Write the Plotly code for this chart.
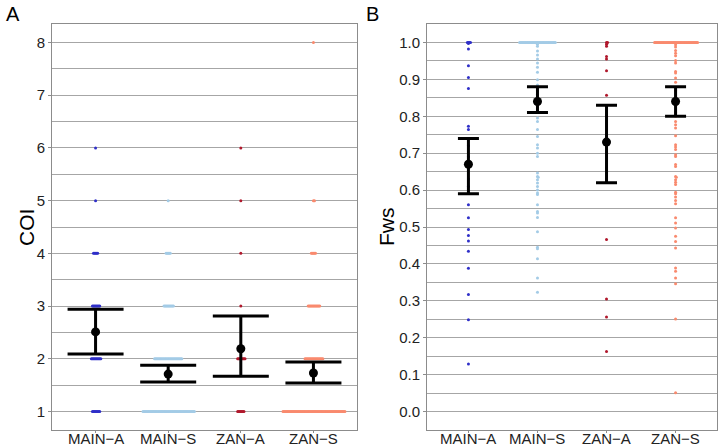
import numpy as np
import plotly.graph_objects as go

# ---- data ----
groups = ["MAIN\u2212A", "MAIN\u2212S", "ZAN\u2212A", "ZAN\u2212S"]
colors = ["#2f2fc8", "#a3cbe6", "#b0182c", "#f98a6e"]

# COI: number of samples at each COI level
coi_levels = [1, 2, 3, 4, 5, 6, 7, 8]
coi_main_a = [8, 10, 8, 5, 1, 1, 0, 0]
coi_main_s = [50, 27, 10, 5, 1, 0, 0, 0]
coi_zan_a = [7, 8, 1, 1, 1, 1, 0, 0]
coi_zan_s = [60, 18, 12, 5, 2, 0, 0, 1]

coi_mean = [2.51, 1.71, 2.19, 1.73]
coi_low = [2.09, 1.56, 1.67, 1.54]
coi_high = [2.94, 1.88, 2.81, 1.94]

# Fws: samples sitting exactly at 1.0, plus the other values
fws_ones = [4, 35, 2, 42]
fws_main_a = [0.997, 0.982, 0.937, 0.905, 0.875, 0.773, 0.764, 0.72, 0.69, 0.66,
              0.63, 0.61, 0.56, 0.525, 0.493, 0.477, 0.462, 0.434, 0.388, 0.317,
              0.249, 0.129]
fws_main_s = [0.995, 0.99, 0.977, 0.966, 0.955, 0.944, 0.933, 0.919, 0.899, 0.885,
              0.87, 0.86, 0.85, 0.835, 0.82, 0.81, 0.795, 0.786, 0.764, 0.745,
              0.723, 0.714, 0.70, 0.691, 0.646, 0.637, 0.635, 0.628, 0.619, 0.61,
              0.60, 0.592, 0.588, 0.56, 0.542, 0.538, 0.526, 0.487, 0.445, 0.441,
              0.414, 0.362, 0.323]
fws_zan_a = [0.995, 0.99, 0.962, 0.955, 0.923, 0.857, 0.80, 0.76, 0.70, 0.66,
             0.63, 0.466, 0.305, 0.256, 0.163]
fws_zan_s = [0.994, 0.988, 0.978, 0.971, 0.964, 0.951, 0.944, 0.921, 0.917, 0.904,
             0.892, 0.87, 0.85, 0.83, 0.81, 0.80, 0.786, 0.777, 0.768, 0.747,
             0.723, 0.717, 0.71, 0.696, 0.691, 0.669, 0.664, 0.637, 0.635, 0.628,
             0.621, 0.615, 0.594, 0.59, 0.581, 0.572, 0.563, 0.525, 0.511, 0.497,
             0.475, 0.461, 0.443, 0.389, 0.38, 0.362, 0.346, 0.251, 0.051]

fws_mean = [0.67, 0.84, 0.73, 0.84]
fws_low = [0.59, 0.81, 0.62, 0.80]
fws_high = [0.74, 0.88, 0.83, 0.88]

# ---- layout geometry ----
W, H = 720, 446
dom_a = [52 / W, 357 / W]
dom_b = [427 / W, 717 / W]
dom_y = [(H - 430) / H, (H - 24) / H]
xr = [0.4, 4.6]
yr_a = [0.65, 8.35]
yr_b = [-0.05, 1.05]
plot_h = (dom_y[1] - dom_y[0]) * H


def swarm(ys, y_px_per_unit, x_px_per_unit, d=1.05):
    """simple beeswarm: push points sideways until they stop overlapping"""
    ys = np.asarray(ys, dtype=float)
    yp = ys * y_px_per_unit
    xs = np.zeros(len(ys))
    placed = []
    for i in np.argsort(-yp, kind="stable"):
        y = yp[i]
        near = [(px, py) for px, py in placed if abs(py - y) < d]
        cands = [0.0]
        for px, py in near:
            dx = np.sqrt(d * d - (py - y) ** 2)
            cands += [px + dx, px - dx]
        cands.sort(key=abs)
        for c in cands:
            if all((c - px) ** 2 + (y - py) ** 2 >= d * d - 1e-6 for px, py in near):
                xs[i] = c
                break
        placed.append((xs[i], y))
    return xs / x_px_per_unit


fig = go.Figure()

# panel A points
coi_counts = [coi_main_a, coi_main_s, coi_zan_a, coi_zan_s]
xa_ppu = (dom_a[1] - dom_a[0]) * W / (xr[1] - xr[0])
ya_ppu = plot_h / (yr_a[1] - yr_a[0])
for i, counts in enumerate(coi_counts):
    ys = np.repeat(coi_levels, counts)
    xs = i + 1 + swarm(ys, ya_ppu, xa_ppu)
    fig.add_trace(go.Scatter(x=xs, y=ys, mode="markers", xaxis="x", yaxis="y",
                             marker=dict(size=3, color=colors[i], line=dict(width=0)),
                             showlegend=False, hoverinfo="skip"))

# panel B points
fws_lists = [fws_main_a, fws_main_s, fws_zan_a, fws_zan_s]
xb_ppu = (dom_b[1] - dom_b[0]) * W / (xr[1] - xr[0])
yb_ppu = plot_h / (yr_b[1] - yr_b[0])
for i, vals in enumerate(fws_lists):
    ys = np.array([1.0] * fws_ones[i] + vals)
    xs = i + 1 + swarm(ys, yb_ppu, xb_ppu)
    fig.add_trace(go.Scatter(x=xs, y=ys, mode="markers", xaxis="x2", yaxis="y2",
                             marker=dict(size=3, color=colors[i], line=dict(width=0)),
                             showlegend=False, hoverinfo="skip"))

# mean +- interval
xpos = [1, 2, 3, 4]
fig.add_trace(go.Scatter(
    x=xpos, y=coi_mean, mode="markers", xaxis="x", yaxis="y",
    marker=dict(size=9, color="black"),
    error_y=dict(type="data", symmetric=False,
                 array=[h - m for h, m in zip(coi_high, coi_mean)],
                 arrayminus=[m - l for m, l in zip(coi_mean, coi_low)],
                 color="black", thickness=3, width=28),
    showlegend=False))
fig.add_trace(go.Scatter(
    x=xpos, y=fws_mean, mode="markers", xaxis="x2", yaxis="y2",
    marker=dict(size=9, color="black"),
    error_y=dict(type="data", symmetric=False,
                 array=[h - m for h, m in zip(fws_high, fws_mean)],
                 arrayminus=[m - l for m, l in zip(fws_mean, fws_low)],
                 color="black", thickness=3, width=10.5),
    showlegend=False))

grid = "#a6a6a6"
frame = "#8c8c8c"
fam = "Liberation Sans, Arial, sans-serif"
tickfont = dict(family=fam, size=15, color="#222")

# x tick labels are placed as annotations so they sit tight under the frame
xaxis_common = dict(range=xr, tickvals=xpos, showticklabels=False, showgrid=False,
                    zeroline=False, showline=True, mirror=True, linecolor=frame,
                    linewidth=1, ticks="outside", ticklen=2, tickcolor=frame)

annotations = [
    dict(text="A", x=4 / W, y=1 - 14 / H, xref="paper", yref="paper",
         xanchor="left", yanchor="middle", showarrow=False,
         font=dict(family=fam, size=20, color="black")),
    dict(text="B", x=364 / W, y=1 - 14 / H, xref="paper", yref="paper",
         xanchor="left", yanchor="middle", showarrow=False,
         font=dict(family=fam, size=20, color="black")),
    dict(text="COI", x=26 / W, y=1 - 227 / H, xref="paper", yref="paper",
         xanchor="center", yanchor="middle", textangle=-90, showarrow=False,
         font=dict(family=fam, size=21, color="black")),
    dict(text="Fws", x=386 / W, y=1 - 227 / H, xref="paper", yref="paper",
         xanchor="center", yanchor="middle", textangle=-90, showarrow=False,
         font=dict(family=fam, size=21, color="black")),
]
for xref in ["x", "x2"]:
    for x, label in zip(xpos, groups):
        annotations.append(dict(text=label, x=x, y=1 - 438 / H, xref=xref,
                                yref="paper", xanchor="center", yanchor="middle",
                                showarrow=False, borderpad=0,
                                font=dict(family=fam, size=15, color="#222")))

fig.update_layout(
    width=W, height=H, autosize=False,
    margin=dict(l=0, r=0, t=0, b=0),
    plot_bgcolor="white", paper_bgcolor="white",
    font=dict(family=fam, color="#222"),
    xaxis=dict(domain=dom_a, anchor="y", **xaxis_common),
    xaxis2=dict(domain=dom_b, anchor="y2", **xaxis_common),
    yaxis=dict(domain=dom_y, anchor="x", range=yr_a, tickvals=coi_levels,
               showgrid=True, gridcolor=grid, gridwidth=1, zeroline=False,
               showline=True, mirror=True, linecolor=frame, linewidth=1,
               ticks="outside", ticklen=3, tickcolor=frame, tickfont=tickfont,
               minor=dict(dtick=0.5, tick0=0.5, showgrid=True, gridcolor=grid,
                          gridwidth=1, ticks="")),
    yaxis2=dict(domain=dom_y, anchor="x2", range=yr_b, dtick=0.1, tick0=0,
                tickformat=".1f", showgrid=True, gridcolor=grid, gridwidth=1,
                zeroline=False, showline=True, mirror=True, linecolor=frame,
                linewidth=1, ticks="outside", ticklen=3, tickcolor=frame,
                tickfont=tickfont,
                minor=dict(dtick=0.05, tick0=0.05, showgrid=True, gridcolor=grid,
                           gridwidth=1, ticks="")),
    annotations=annotations,
)

# the page's default 8px body margin would push the 720x446 figure out of view
fig.write_html("out.html", config={"displayModeBar": False},
               post_script="document.body.style.margin = '0';")
